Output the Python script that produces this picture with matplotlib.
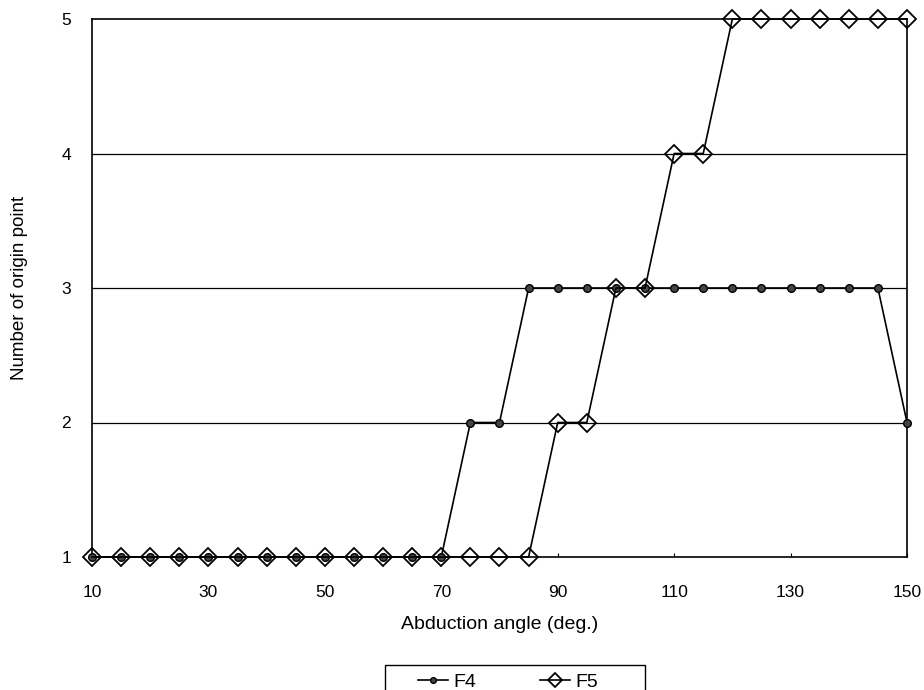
import matplotlib
matplotlib.use("Agg")
import matplotlib.pyplot as plt
from matplotlib.patches import Rectangle

angles = list(range(10, 151, 5))
f4 = [1]*13 + [2, 2] + [3]*13 + [2]
f5 = [1]*16 + [2, 2, 3, 3, 4, 4] + [5]*7
xticks = [10, 30, 50, 70, 90, 110, 130, 150]
yticks = [1, 2, 3, 4, 5]

plt.rcParams['font.family'] = ['Liberation Sans', 'DejaVu Sans']
W, H = 924, 690
fig = plt.figure(figsize=(W/100, H/100), dpi=100)
ax = fig.add_axes([92/W, 1-557/H, (907-92)/W, (557-19)/H])

ax.plot(angles, f4, color='black', lw=1.2, marker='o', ms=5.5,
        mfc='#444444', mec='black', mew=1.0, label='F4', zorder=3, clip_on=False)
ax.plot(angles, f5, color='black', lw=1.2, marker='D', ms=9,
        mfc='none', mec='black', mew=1.3, label='F5', zorder=4, clip_on=False)

ax.set_xlim(10, 150)
ax.set_ylim(1, 5)
ax.set_xticks(xticks)
ax.set_yticks(yticks)
for y in [2, 3, 4]:
    ax.axhline(y, color='black', lw=0.9, zorder=1)
ax.tick_params(axis='x', direction='in', length=3, labelsize=12.5, pad=20)
ax.tick_params(axis='y', length=0, labelsize=12.5, pad=15)
for s in ax.spines.values():
    s.set_linewidth(1.2)
ax.set_xlabel('Abduction angle (deg.)', fontsize=14, labelpad=12)
ax.set_ylabel('Number of origin point', fontsize=13.5, labelpad=24)

leg = fig.legend(loc='center left', bbox_to_anchor=(418/W, 1-682/H), ncol=2,
                 frameon=False, fontsize=14, borderpad=0, borderaxespad=0,
                 handlelength=1.55, handletextpad=0.25, columnspacing=3.3,
                 markerscale=0.75)
fig.add_artist(Rectangle((385/W, 1-700/H), (645-385)/W, 35/H, transform=fig.transFigure,
                         fill=False, edgecolor='black', lw=1.0, clip_on=False))

fig.savefig('out.png', dpi=100)
